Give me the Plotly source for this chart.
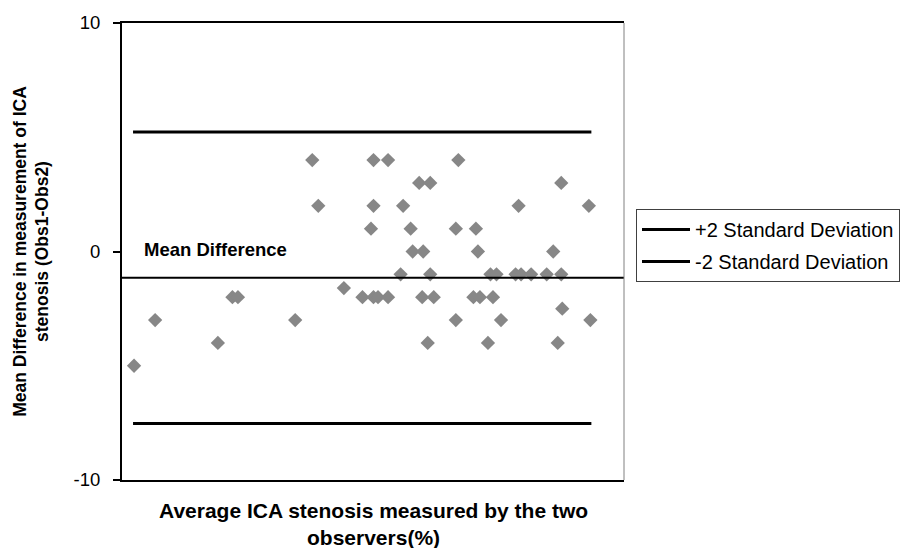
import plotly.graph_objects as go

# Average ICA stenosis (%) for each case and the difference between observers
avg_stenosis = [2.4, 6.6, 19.1, 22.0, 23.1, 34.5, 37.9, 39.1, 44.2, 47.9,
                49.6, 50.1, 50.1, 50.1, 51.0, 53.0, 53.0, 55.5, 56.0, 57.5,
                57.9, 59.2, 59.8, 60.0, 60.9, 61.4, 61.4, 62.1, 66.5, 66.5,
                67.0, 70.0, 70.5, 70.9, 71.3, 72.9, 73.4, 73.9, 74.6, 75.5,
                78.4, 79.0, 79.5, 81.5, 84.6, 85.9, 86.8, 87.5, 87.5, 87.7,
                93.0, 93.3]
difference = [-5, -3, -4, -2, -2, -3, 4, 2, -1.6, -2,
              1, 4, 2, -2, -2, 4, -2, -1, 2, 1,
              0, 3, -2, 0, -4, 3, -1, -2, 1, -3,
              4, -2, 1, 0, -2, -4, -1, -2, -1, -3,
              -1, 2, -1, -1, -1, 0, -4, 3, -1, -2.5,
              2, -3]

mean_diff = -1.15
upper_limit = 5.23
lower_limit = -7.53
limit_x = [2.2, 93.5]
x_range = [0, 100]
y_ticks = [-10, 0, 10]
y_ticktext = ["-10", "0", "10"]

FONT = "Arial, 'Liberation Sans', sans-serif"

fig = go.Figure()
fig.add_trace(go.Scatter(
    x=avg_stenosis, y=difference, mode="markers",
    marker=dict(symbol="diamond", size=11, color="#878787", line=dict(width=0)),
    showlegend=False, name="Difference"))
fig.add_trace(go.Scatter(
    x=limit_x, y=[upper_limit, upper_limit], mode="lines",
    line=dict(color="black", width=3), name="+2 Standard Deviation",
    legendgroup="up"))
fig.add_trace(go.Scatter(
    x=limit_x, y=[lower_limit, lower_limit], mode="lines",
    line=dict(color="black", width=3), name="-2 Standard Deviation",
    legendgroup="low"))
fig.add_trace(go.Scatter(
    x=x_range, y=[mean_diff, mean_diff], mode="lines",
    line=dict(color="black", width=2), showlegend=False, name="Mean Difference"))

fig.add_annotation(x=3.9, y=0.1, xref="x", yref="y", text="<b>Mean Difference</b>",
                   showarrow=False, xanchor="left", yanchor="middle",
                   font=dict(family=FONT, size=18.5, color="black"))

# x-axis title (placed below the plot area)
fig.add_annotation(x=0.5, y=0, xref="paper", yref="paper", yshift=-17,
                   text="<b>Average ICA stenosis measured by the two<br>observers(%)</b>",
                   showarrow=False, xanchor="center", yanchor="top", align="center",
                   font=dict(family=FONT, size=21, color="black"))

# right border of plot area (gray)
fig.add_shape(type="line", xref="paper", yref="paper", x0=1, x1=1, y0=0, y1=1,
              line=dict(color="#808080", width=1))

fig.update_layout(
    width=906, height=548,
    margin=dict(l=122, r=277, t=18, b=68),
    paper_bgcolor="white", plot_bgcolor="white",
    font=dict(family=FONT, color="black"),
    xaxis=dict(range=x_range, showgrid=False, zeroline=False, showticklabels=False,
               ticks="", showline=True, linecolor="black", linewidth=1.5, mirror=True,
               automargin=False),
    yaxis=dict(range=[-10, 10], tickvals=y_ticks, ticktext=y_ticktext,
               showgrid=False, zeroline=False,
               ticks="outside", ticklen=7, tickwidth=2, tickcolor="black",
               ticklabelstandoff=9,
               showline=True, linecolor="black", linewidth=2,
               tickfont=dict(family=FONT, size=18.5, color="black"),
               title=dict(text="<b>Mean Difference in measurement of ICA<br>stenosis (Obs1-Obs2)</b>",
                          font=dict(family=FONT, size=17.5, color="black"), standoff=20)),
    legend=dict(xref="container", yref="container", x=636 / 906, y=1 - 209 / 548,
                xanchor="left", yanchor="top",
                bordercolor="#404040", borderwidth=1, bgcolor="white",
                font=dict(family=FONT, size=20, color="black"),
                itemwidth=48, tracegroupgap=3),
    showlegend=True,
)

fig.write_html("out.html")
